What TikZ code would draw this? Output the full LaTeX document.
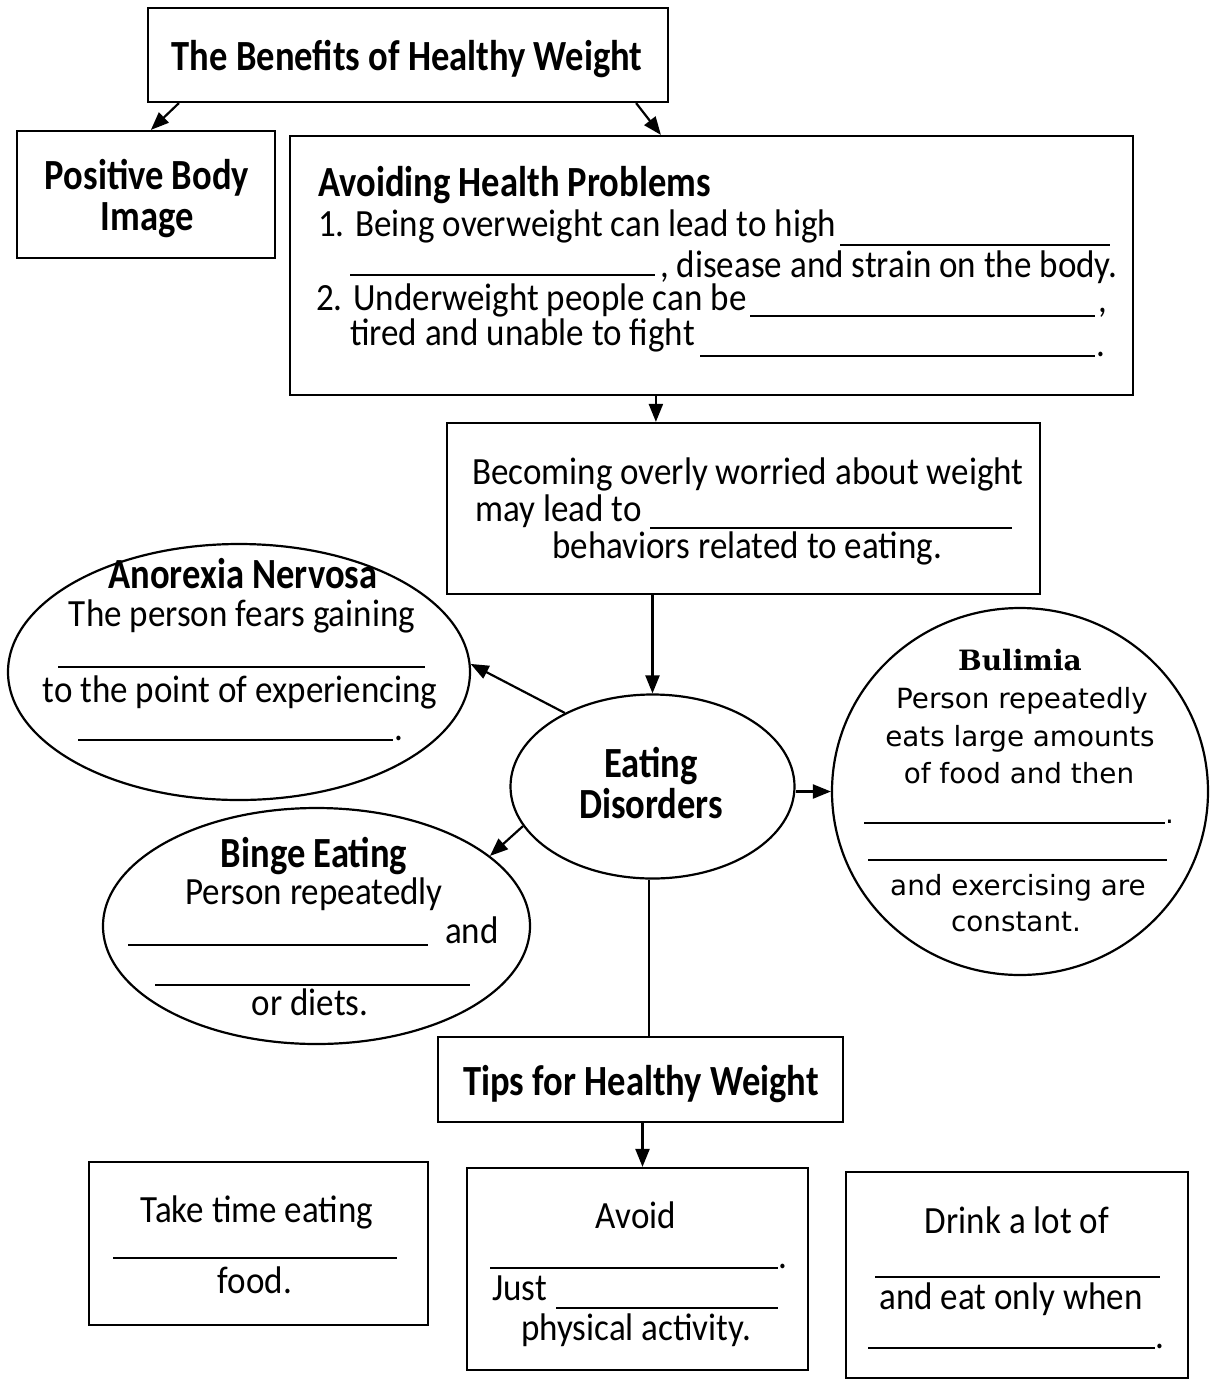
\documentclass[tikz,border=0pt]{standalone}
\usepackage{fontspec}
\usetikzlibrary{shapes.geometric,arrows.meta}
\newfontfamily\bodyf{Carlito}[FakeStretch=0.91]
\newfontfamily\headf{Carlito}[FakeStretch=0.85]
\newfontfamily\bulf{DejaVu Sans}
\newfontfamily\bulh{DejaVu Serif}
\tikzset{
  box/.style={draw, line width=2.2pt, rectangle, inner sep=0pt},
  oval/.style={draw, line width=2.2pt, ellipse, inner sep=0pt},
  arr/.style={line width=2.2pt, -{Triangle[length=18pt,width=14pt]}},
  conn/.style={line width=2pt},
  blank/.style={line width=1.4pt},
  txt/.style={font=\bodyf\fontsize{38.5}{40}\selectfont, inner sep=0pt, anchor=base},
  txtl/.style={txt, anchor=base west},
  hd/.style={font=\headf\bfseries\fontsize{43}{45}\selectfont, inner sep=0pt, anchor=base},
  hdl/.style={hd, anchor=base west},
  btxt/.style={font=\bulf\fontsize{27.8}{30}\selectfont, inner sep=0pt, anchor=base},
  bhd/.style={font=\bulh\bfseries\fontsize{28}{30}\selectfont, inner sep=0pt, anchor=base},
}
\begin{document}
\begin{tikzpicture}[x=1pt,y=-1pt]
\useasboundingbox[fill=white] (0,0) rectangle (1211,1382);

% boxes
\node[box, minimum width=520pt, minimum height=94pt] (title) at (408,55) {};
\node[box, minimum width=258pt, minimum height=127pt] (pbody) at (146,194.5) {};
\node[box, minimum width=843pt, minimum height=259pt] (avoid) at (711.5,265.5) {};
\node[box, minimum width=593pt, minimum height=171pt] (becoming) at (743.5,508.5) {};
\node[box, minimum width=405pt, minimum height=85pt] (tips) at (640.5,1079.5) {};
\node[box, minimum width=339pt, minimum height=163pt] (tipA) at (258.5,1243.5) {};
\node[box, minimum width=341pt, minimum height=202pt] (tipB) at (637.5,1269) {};
\node[box, minimum width=342pt, minimum height=206pt] (tipC) at (1017,1275) {};

% ellipses
\node[oval, minimum width=284pt, minimum height=184pt] (ed) at (652.5,786.5) {};
\node[oval, minimum width=462pt, minimum height=256pt] (anor) at (239,672) {};
\node[oval, minimum width=427pt, minimum height=236pt] (binge) at (316.5,926) {};
\node[oval, minimum width=376pt, minimum height=367pt] (bul) at (1020,791.5) {};

% connectors
\draw[arr] ([xshift=32pt]title.south west) -- ([xshift=135pt]pbody.north west);
\draw[arr] ([xshift=-33pt]title.south east) -- ([xshift=372pt]avoid.north west);
\draw[arr] ([xshift=367pt]avoid.south west) -- ([xshift=367pt]avoid.south west |- becoming.north);
\draw[arr] (becoming.south -| ed.north) -- (ed.north);
\draw[arr] (ed.140) -- (anor.2);
\draw[arr] (ed.197) -- (binge.22);
\draw[arr] (bul.west -| ed.east) -- (bul.west);
\draw[conn] ([xshift=-4pt]ed.south) -- ([xshift=-4pt]ed.south |- tips.north);
\draw[arr] ([xshift=2pt]tips.south) -- ([xshift=2pt]tips.south |- tipB.north);

% title texts
\node[hd] (tTitle) at (407,70) {The Benefits of Healthy Weight};
\node[hd] (tPB1) at (147,189) {Positive Body};
\node[hd] (tPB2) at (147,230) {Image};

% avoiding health problems
\node[hdl] (tAv) at (318,196) {Avoiding Health Problems};
\node[txtl] (tAv1) at (318,236) {1. Being overweight can lead to high};
\draw[blank] (840,245) -- (1110,245);
\draw[blank] (350,275) -- (655,275);
\node[txtl] (tAv2) at (660,277) {, disease and strain on the body.};
\node[txtl] (tAv3) at (316,310) {2. Underweight people can be};
\draw[blank] (750,316) -- (1095,316);
\node[txtl] (tAv3c) at (1098,312) {,};
\node[txtl] (tAv4) at (350,345) {tired and unable to fight};
\draw[blank] (700,356) -- (1095,356);
\node[txtl] (tAv4p) at (1096,356) {.};

% becoming
\node[txtl] (tB1) at (472,484) {Becoming overly worried about weight};
\node[txtl] (tB2) at (475,521) {may lead to};
\draw[blank] (650,528) -- (1012,528);
\node[txtl] (tB3) at (552,558) {behaviors related to eating.};

% anorexia
\node[hd] (tAn) at (243,588) {Anorexia Nervosa};
\node[txt] (tAn1) at (242,626) {The person fears gaining};
\draw[blank] (58,667) -- (425,667);
\node[txt] (tAn2) at (240,702) {to the point of experiencing};
\draw[blank] (78,740) -- (393,740);
\node[txtl] (tAn2p) at (394,740) {.};

% eating disorders
\node[hd] (tED1) at (651,777) {Eating};
\node[hd] (tED2) at (651,818) {Disorders};

% binge
\node[hd] (tBi) at (314,867) {Binge Eating};
\node[txt] (tBi1) at (314,904) {Person repeatedly};
\draw[blank] (128,945) -- (428,945);
\node[txtl] (tBi2) at (445,943) {and};
\draw[blank] (155,985) -- (470,985);
\node[txt] (tBi3) at (310,1015) {or diets.};

% bulimia
\node[bhd] (tBu) at (1020,670) {Bulimia};
\node[btxt] (tBu1) at (1022,708) {Person repeatedly};
\node[btxt] (tBu2) at (1020,746) {eats large amounts};
\node[btxt] (tBu3) at (1019,783) {of food and then};
\draw[blank] (864,823) -- (1165,823);
\node[btxt, anchor=base west] (tBu3p) at (1165,823) {.};
\draw[blank] (868,860) -- (1167,860);
\node[btxt] (tBu4) at (1018,895) {and exercising are};
\node[btxt] (tBu5) at (1016,931) {constant.};

% tips
\node[hd] (tTips) at (641,1095) {Tips for Healthy Weight};

\node[txt] (tA1) at (257,1222) {Take time eating};
\draw[blank] (113,1258) -- (397,1258);
\node[txt] (tA2) at (255,1293) {food.};

\node[txt] (tBB1) at (636,1228) {Avoid};
\draw[blank] (490,1268) -- (778,1268);
\node[txtl] (tBB1p) at (778,1268) {.};
\node[txtl] (tBB2) at (492,1300) {Just};
\draw[blank] (556,1308) -- (778,1308);
\node[txt] (tBB3) at (636,1340) {physical activity.};

\node[txt] (tC1) at (1017,1233) {Drink a lot of};
\draw[blank] (875,1277) -- (1160,1277);
\node[txt] (tC2) at (1011,1309) {and eat only when};
\draw[blank] (868,1348) -- (1155,1348);
\node[txtl] (tC2p) at (1155,1348) {.};
\end{tikzpicture}
\end{document}
